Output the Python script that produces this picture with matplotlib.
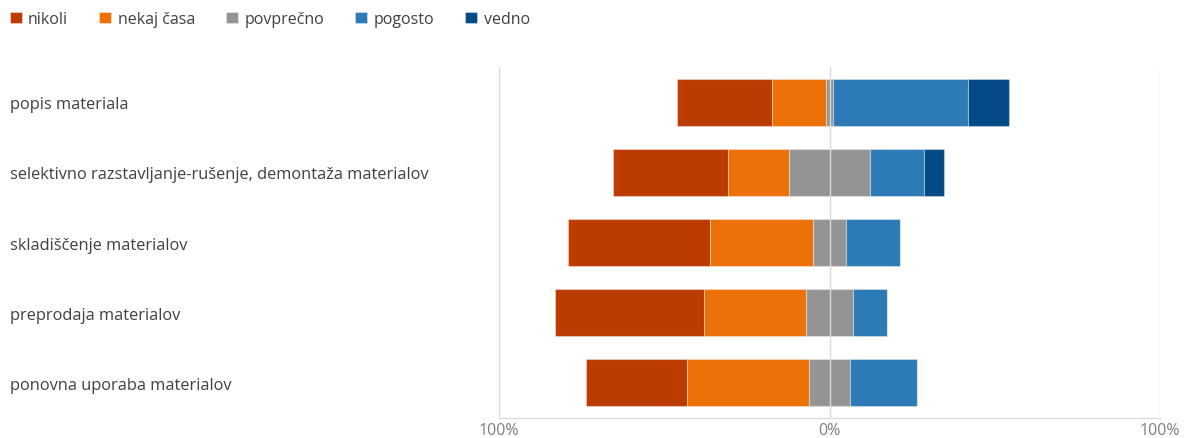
import matplotlib.pyplot as plt
import matplotlib.transforms as mtransforms
import numpy as np

plt.rcParams['font.family'] = ['Open Sans', 'DejaVu Sans']

categories = ['popis materiala',
              'selektivno razstavljanje-rušenje, demontaža materialov',
              'skladiščenje materialov',
              'preprodaja materialov',
              'ponovna uporaba materialov']
series = ['nikoli', 'nekaj časa', 'povprečno', 'pogosto', 'vedno']
nikoli = [28.7, 34.8, 42.9, 44.9, 30.6]
nekaj = [16.3, 18.5, 31.0, 30.9, 37.0]
povprecno = [2.0, 24.7, 10.2, 14.3, 12.2]
pogosto = [40.8, 16.3, 16.3, 10.3, 20.5]
vedno = [12.4, 6.1, 0, 0, 0]
colors = ['#bc3b02', '#ec7108', '#949494', '#2c7bb6', '#034a86']
tick_vals = [-100, 0, 100]
tick_labels = ['100%', '0%', '100%']

fig = plt.figure(figsize=(11.87, 4.39), dpi=100)
ax = fig.add_axes([0.4204, 0.0455, 0.5569, 0.7995])

values = np.array([nikoli, nekaj, povprecno, pogosto, vedno])
y = np.arange(len(categories))
left = -(values[0] + values[1] + values[2] / 2)
for i, name in enumerate(series):
    ax.barh(y, values[i], left=left, height=0.67, color=colors[i], label=name,
            edgecolor=(1, 1, 1, 0.35), linewidth=0.8, zorder=2)
    left = left + values[i]

for v in tick_vals:
    ax.axvline(v, color='#d9d9d9', lw=1, zorder=3 if v == 0 else 1)

ax.set_xlim(-100, 100)
ax.set_ylim(len(categories) - 0.5, -0.5)
ax.set_xticks(tick_vals)
ax.set_xticklabels(tick_labels, color='#7f7f7f', fontsize=11.5)
ax.tick_params(axis='x', length=0, pad=3)
ax.set_yticks([])
for s in ['top', 'left', 'right']:
    ax.spines[s].set_visible(False)
ax.spines['bottom'].set_color('#d9d9d9')
ax.spines['bottom'].set_zorder(1)

trans = mtransforms.blended_transform_factory(fig.transFigure, ax.transData)
for yi, lab in zip(y, categories):
    ax.text(10 / 1187, yi, lab, transform=trans,
            ha='left', va='center_baseline', fontsize=11.8, color='#404040')

fig.legend(loc='upper left', bbox_to_anchor=(-0.004, 1.005), ncol=5, frameon=False,
           fontsize=11.5, handlelength=0.75, handleheight=0.75, handletextpad=0.4,
           columnspacing=1.95, labelcolor='#404040')

fig.savefig('out.png', dpi=100)
